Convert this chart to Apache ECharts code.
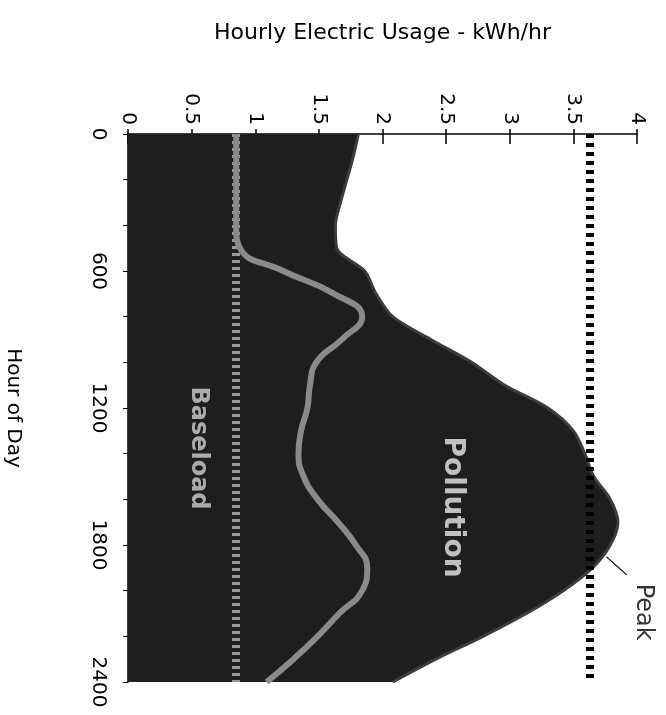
<!DOCTYPE html>
<html>
<head>
<meta charset="utf-8">
<title>Hourly Electric Usage</title>
<script src="https://cdn.jsdelivr.net/npm/echarts@6/dist/echarts.min.js"></script>
<style>
  html, body { margin: 0; padding: 0; background: #fff; }
  #main { width: 666px; height: 715px; }
</style>
</head>
<body>
<div id="main"></div>
<script>
// hour of day, one row every 100
var hours = ['0', '100', '200', '300', '400', '500', '600', '700', '800', '900', '1000', '1100', '1200',
  '1300', '1400', '1500', '1600', '1700', '1800', '1900', '2000', '2100', '2200', '2300', '2400'];
// total usage (dark area), kWh/hr
var totalUsage = [1.81, 1.77, 1.72, 1.67, 1.63, 1.64, 1.86, 1.95, 2.08, 2.38, 2.70, 2.96, 3.30,
  3.50, 3.59, 3.66, 3.79, 3.85, 3.79, 3.65, 3.42, 3.13, 2.79, 2.42, 2.08];
// grey curve, kWh/hr
var greyUsage = [0.85, 0.85, 0.85, 0.85, 0.85, 0.88, 1.22, 1.62, 1.84, 1.68, 1.48, 1.43, 1.41,
  1.36, 1.34, 1.38, 1.49, 1.65, 1.79, 1.88, 1.84, 1.66, 1.49, 1.30, 1.09];
var baseload = 0.85;
var peak = 3.63;
// usage axis
var usageMin = 0, usageMax = 4, usageStep = 0.5;

var font = 'DejaVu Sans';
var chart = echarts.init(document.getElementById('main'));

var option = {
  backgroundColor: '#fff',
  animation: false,
  grid: { left: 128, top: 134, right: 29, bottom: 33, outerBoundsMode: 'none' },
  xAxis: [
    {
      type: 'value', position: 'top', min: usageMin, max: usageMax, interval: usageStep,
      name: 'Hourly Electric Usage - kWh/hr', nameLocation: 'middle', nameGap: 90,
      nameTextStyle: { fontFamily: font, fontSize: 22, color: '#000' },
      axisLine: { show: true, lineStyle: { color: '#000', width: 1.5 } },
      axisTick: { show: true, length: 5, lineStyle: { color: '#000', width: 1.5 } },
      axisLabel: { rotate: -90, margin: 9, fontFamily: font, fontSize: 20, color: '#000' },
      splitLine: { show: false }
    },
    {
      // second copy only for the ticks that cross into the plot
      type: 'value', position: 'top', min: usageMin, max: usageMax, interval: usageStep,
      axisLine: { show: false },
      axisTick: { show: true, inside: true, length: 10, lineStyle: { color: '#000', width: 1.5 } },
      axisLabel: { show: false },
      splitLine: { show: false }
    }
  ],
  yAxis: [
    {
      type: 'category', data: hours, inverse: true, boundaryGap: false,
      name: 'Hour of Day', nameLocation: 'middle', nameGap: 105, nameRotate: -90,
      nameTextStyle: { fontFamily: font, fontSize: 20, color: '#000' },
      axisLine: { show: true, lineStyle: { color: '#000', width: 1.5 } },
      axisTick: { show: true, interval: 1, length: 5, lineStyle: { color: '#000', width: 1 } },
      axisLabel: { interval: 5, rotate: -90, margin: 20, fontFamily: font, fontSize: 20, color: '#000' },
      splitLine: { show: false }
    },
    // hidden hour scale for the text notes
    { type: 'value', min: 0, max: 2400, inverse: true, show: false }
  ],
  series: [
    {
      name: 'Usage',
      type: 'line',
      data: totalUsage.map(function (v, i) { return [v, i]; }),
      smooth: 0.3,
      symbol: 'none',
      lineStyle: { color: '#3c3c3c', width: 3 },
      areaStyle: { color: '#1e1e1e', opacity: 1 },
      z: 2,
      // baseload and peak dotted lines
      markLine: {
        silent: true,
        symbol: ['none', 'none'],
        label: { show: false },
        data: [
          { xAxis: baseload, lineStyle: { color: '#9a9a9a', width: 8, type: [3, 4] } },
          { xAxis: peak, lineStyle: { color: '#000', width: 8, type: [4, 5] } }
        ]
      }
    },
    {
      name: 'Grey',
      type: 'line',
      data: greyUsage.map(function (v, i) { return [v, i]; }),
      smooth: 0.5,
      symbol: 'none',
      lineStyle: { color: '#8a8a8a', width: 6 },
      z: 6
    },
    {
      name: 'Peak pointer',
      type: 'line',
      yAxisIndex: 1,
      data: [[3.76, 1852], [3.92, 1931]],
      symbol: 'none',
      lineStyle: { color: '#000', width: 1.2 },
      z: 6
    },
    {
      name: 'Notes',
      type: 'scatter',
      yAxisIndex: 1,
      clip: false,
      symbolSize: 1,
      itemStyle: { color: 'rgba(0,0,0,0)' },
      label: { show: true, position: 'inside', rotate: -90, fontFamily: font },
      z: 7,
      data: [
        { value: [2.55, 1634], label: { formatter: 'Pollution', fontSize: 28, fontWeight: 'bold', color: '#e8e8e8' } },
        { value: [0.55, 1375], label: { formatter: 'Baseload', fontSize: 24, fontWeight: 'bold', color: '#d0d0d0' } },
        { value: [4.05, 2094], label: { formatter: 'Peak', fontSize: 24, color: '#000' } }
      ]
    }
  ]
};

chart.setOption(option);
</script>
</body>
</html>
